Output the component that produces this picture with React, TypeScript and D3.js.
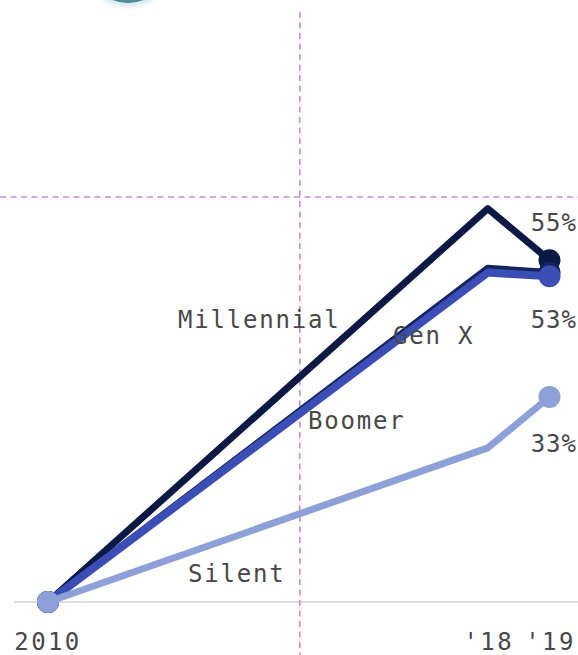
import React from "react";
import * as d3 from "d3";

// Change since 2010, percentage points, by generation
const dates = [new Date(2010, 0, 1), new Date(2018, 0, 1), new Date(2019, 1, 15)];
const millennial = [0, 63.3, 55];
const genX = [0, 53.7, 53];
const boomer = [0, 53.0, 52.4];
const silent = [0, 24.8, 33];

const seriesNames = ["Millennial", "Gen X", "Boomer", "Silent"];
const seriesValues = [millennial, genX, boomer, silent];
const seriesColors = ["#0b1a45", "#13245e", "#3a4eb6", "#8da1d8"];

const tickDates = [new Date(2010, 0, 1), new Date(2018, 0, 1), new Date(2019, 1, 15)];
const tickLabels = ["2010", "'18", "'19"];

const endLabels = ["55%", "53%", "33%"];
const endLabelValues = [55, 53, 33];

const gridValue = 65;
const markerDate = new Date(2014, 7, 1);

const W = 578;
const H = 655;

export default function App() {
  const x = d3.scaleTime().domain([dates[0], dates[2]]).range([48, 549.5]);
  const y = d3.scaleLinear().domain([0, gridValue]).range([602, 198]);

  const line = d3
    .line<number>()
    .x((_, i) => x(dates[i]))
    .y((d) => y(d))
    .curve(d3.curveLinear);

  const font = "'DejaVu Sans Mono', 'Liberation Mono', monospace";
  const textColor = "#474747";
  const dashColor = "#c98bd4";

  // positions of series name labels
  const nameAnchors: { x: number; y: number }[] = [
    { x: 178, y: 328 },
    { x: 393, y: 344 },
    { x: 308, y: 429 },
    { x: 188, y: 582 },
  ];

  // end-label vertical offsets (label sits above/below its dot)
  const endOffsets = [-29, 55, 55];

  return (
    <svg
      width={W}
      height={H}
      style={{ position: "fixed", left: 0, top: 0, background: "#fff" }}
    >
      <defs>
        <filter id="soft" x="-50%" y="-50%" width="200%" height="200%">
          <feGaussianBlur stdDeviation="2" />
        </filter>
      </defs>

      {/* partially visible badge above the chart */}
      <circle cx={128} cy={-40} r={47} fill="#d8eaee" filter="url(#soft)" />
      <circle cx={128} cy={-40} r={43} fill="#4f8b98" />

      {/* baseline */}
      <line x1={14} x2={W} y1={y(0)} y2={y(0)} stroke="#dcdcdc" strokeWidth={2} />

      {/* dashed reference lines */}
      <line
        x1={0}
        x2={W}
        y1={y(gridValue) - 1}
        y2={y(gridValue) - 1}
        stroke={dashColor}
        strokeWidth={1.6}
        strokeDasharray="6,4.5"
      />
      <line
        x1={x(markerDate)}
        x2={x(markerDate)}
        y1={12}
        y2={H}
        stroke={dashColor}
        strokeWidth={1.6}
        strokeDasharray="6,4.5"
      />

      {/* series lines and end dots */}
      {seriesValues.map((vals, si) => (
        <g key={seriesNames[si]}>
          <path
            d={line(vals) || ""}
            fill="none"
            stroke={seriesColors[si]}
            strokeWidth={si === 2 ? 8 : 7}
            strokeLinejoin="round"
            strokeLinecap="round"
          />
          <circle cx={x(dates[0])} cy={y(vals[0])} r={11} fill={seriesColors[si]} />
          <circle cx={x(dates[2])} cy={y(vals[2])} r={11} fill={seriesColors[si]} />
        </g>
      ))}

      {/* series names */}
      {seriesNames.map((name, i) => (
        <text
          key={name}
          x={nameAnchors[i].x}
          y={nameAnchors[i].y}
          fontFamily={font}
          fontSize={24}
          letterSpacing={1.8}
          fill={textColor}
        >
          {name}
        </text>
      ))}

      {/* end value labels */}
      {endLabels.map((lab, i) => (
        <text
          key={lab}
          x={577}
          y={y(endLabelValues[i]) + endOffsets[i]}
          textAnchor="end"
          fontFamily={font}
          fontSize={24}
          letterSpacing={1}
          fill={textColor}
        >
          {lab}
        </text>
      ))}

      {/* x-axis tick labels */}
      {tickLabels.map((lab, i) => (
        <text
          key={lab}
          x={x(tickDates[i]) + (i === 0 ? 0 : 1)}
          y={650}
          textAnchor="middle"
          fontFamily={font}
          fontSize={24}
          letterSpacing={2.4}
          fill={textColor}
        >
          {lab}
        </text>
      ))}
    </svg>
  );
}
